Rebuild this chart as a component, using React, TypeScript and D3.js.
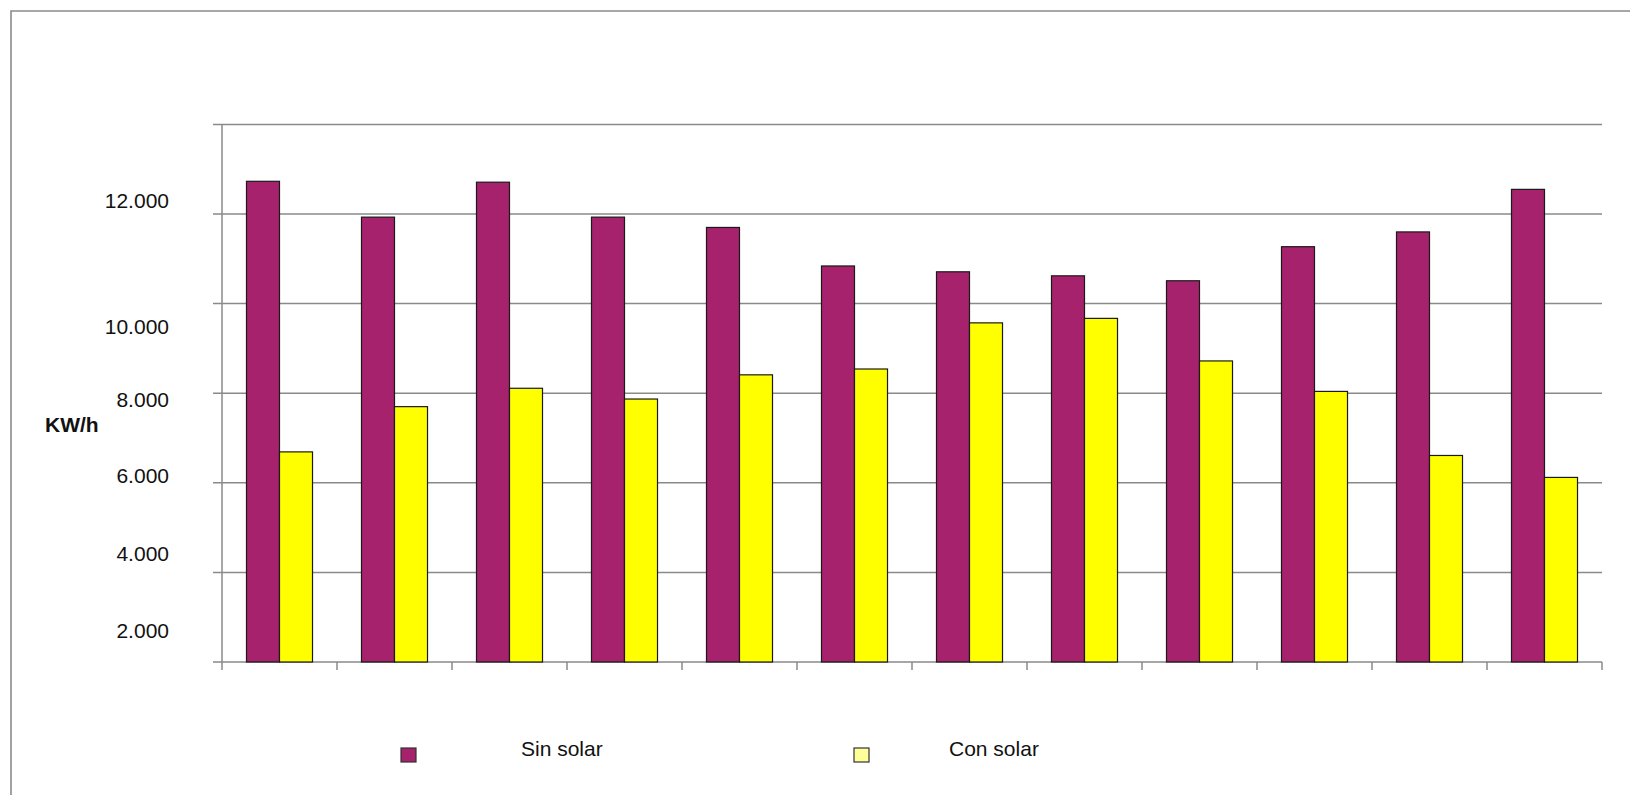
import React from "react";
import * as d3 from "d3";

const months = ["Ene", "Feb", "Mar", "Abr", "May", "Jun", "Jul", "Ago", "Sep", "Oct", "Nov", "Dic"];
const seriesNames = ["Sin solar", "Con solar"];
const sinSolar = [12730, 11930, 12710, 11930, 11700, 10840, 10710, 10620, 10510, 11270, 11600, 12550];
const conSolar = [6690, 7700, 8110, 7870, 8410, 8540, 9570, 9670, 8720, 8040, 6610, 6120];
const gridValues = [2000, 4000, 6000, 8000, 10000, 12000, 14000];
const tickValues = [2000, 4000, 6000, 8000, 10000, 12000];
const tickLabels = ["2.000", "4.000", "6.000", "8.000", "10.000", "12.000"];
const yTitle = "KW/h";

// layout (pixel offsets of the tick labels as they appear in the original)
const labelNudge = [-32, -19, -7, 6, 23, -14];
const colors = ["#A6226C", "#FFFF00"];
const legendColors = ["#A6226C", "#FFFF99"];

export default function App() {
  const W = 1630, H = 795;
  const left = 222, right = 1602, top = 124.4, bottom = 662;
  const y = d3.scaleLinear().domain([2000, 14000]).range([bottom, top]);
  const x0 = d3.scaleBand<string>().domain(months).range([left, right]).padding(0);
  const x1 = d3.scaleBand<string>().domain(seriesNames).range([0, x0.bandwidth()]).paddingInner(0).paddingOuter(0.742);
  const data = [sinSolar, conSolar];
  const grid = "#8a8a8a";
  const font = "Arial, 'Liberation Sans', sans-serif";
  const catEdges = months.map((m) => x0(m) as number).concat([right]);

  return (
    <svg width={W} height={H} style={{ position: "absolute", left: 0, top: 0, background: "#fff" }}>
      <rect x={0} y={0} width={W} height={H} fill="#fff" />
      {/* outer frame */}
      <path d={`M11,${H + 5}V11H${W + 5}`} fill="none" stroke={grid} strokeWidth={1.6} />
      {/* gridlines */}
      {gridValues.map((v) => (
        <line key={v} x1={213} x2={right} y1={y(v)} y2={y(v)} stroke={grid} strokeWidth={1.5} />
      ))}
      {/* y axis */}
      <line x1={left} x2={left} y1={top} y2={bottom} stroke={grid} strokeWidth={1.5} />
      {/* x ticks */}
      {catEdges.map((cx, i) => (
        <line key={i} x1={cx} x2={cx} y1={bottom} y2={bottom + 8} stroke={grid} strokeWidth={1.5} />
      ))}
      {/* bars */}
      {months.map((m, i) => (
        <g key={m} transform={`translate(${x0(m)},0)`}>
          {seriesNames.map((s, j) => (
            <rect
              key={s}
              x={x1(s)}
              y={y(data[j][i])}
              width={x1.bandwidth()}
              height={y(2000) - y(data[j][i])}
              fill={colors[j]}
              stroke="#1a1a1a"
              strokeWidth={1.2}
            />
          ))}
        </g>
      ))}
      {/* y tick labels */}
      {tickValues.map((v, i) => (
        <text key={v} x={169} y={y(v) + labelNudge[i] + 7.5} textAnchor="end" fontFamily={font} fontSize={21} fill="#111">
          {tickLabels[i]}
        </text>
      ))}
      <text x={45} y={431.5} fontFamily={font} fontSize={21} fontWeight="bold" fill="#111">
        {yTitle}
      </text>
      {/* legend */}
      {seriesNames.map((s, j) => {
        const lx = [401, 854][j];
        const tx = [521, 949][j];
        return (
          <g key={s}>
            <rect x={lx} y={748} width={15} height={14} fill={legendColors[j]} stroke="#333" strokeWidth={1.2} />
            <text x={tx} y={755.5} fontFamily={font} fontSize={21} fill="#111">
              {s}
            </text>
          </g>
        );
      })}
    </svg>
  );
}
